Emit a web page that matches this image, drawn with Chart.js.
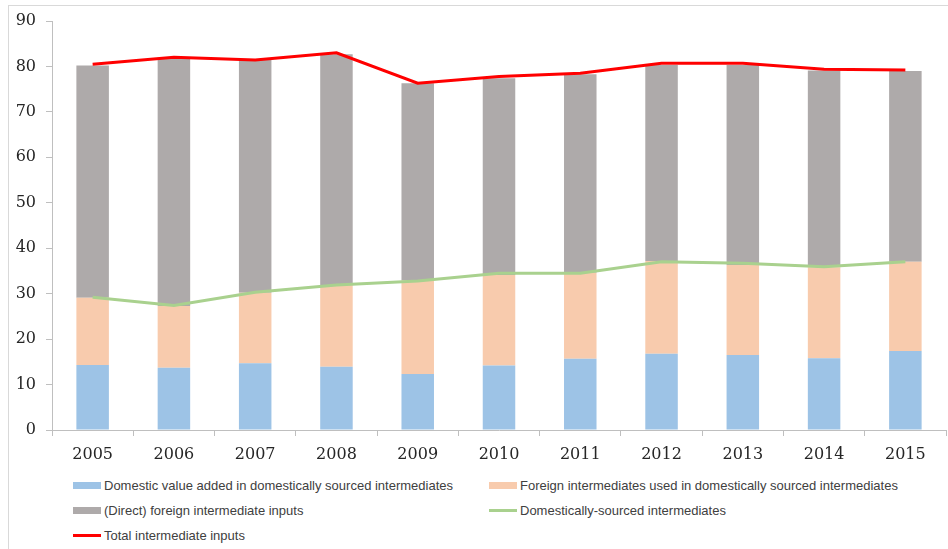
<!DOCTYPE html>
<html>
<head>
<meta charset="utf-8">
<script src="https://cdn.jsdelivr.net/npm/chart.js@4"></script>
<style>
  body { margin: 0; background: #fff; }
  #wrap { position: relative; width: 948px; height: 549px; overflow: hidden; }
  #frame { position: absolute; left: 8px; top: 5px; width: 960px; height: 560px;
           border-top: 1px solid #d9d9d9; border-left: 1px solid #d9d9d9; }
  #box { position: absolute; left: 0; top: 0; width: 948px; height: 470px; }
  #legend { position: absolute; left: 73px; top: 476px; width: 860px;
            display: grid; grid-template-columns: 416px 440px; row-gap: 7px;
            font-family: "Liberation Sans", Arial, sans-serif; font-size: 13px; color: #404040; }
  .item { display: flex; align-items: center; height: 18px; white-space: nowrap; }
  .sw { display: inline-block; width: 28px; margin-right: 3px; }
</style>
</head>
<body>
<div id="wrap">
  <div id="frame"></div>
  <div id="box"><canvas id="chart"></canvas></div>
  <div id="legend"></div>
</div>
<script>
const years = ["2005", "2006", "2007", "2008", "2009", "2010", "2011", "2012", "2013", "2014", "2015"];

// stacked bar segments
const domesticVA = [14.3, 13.7, 14.7, 13.9, 12.3, 14.2, 15.7, 16.8, 16.5, 15.8, 17.4];
const foreignInDomestic = [14.8, 13.6, 15.5, 18.0, 20.6, 19.9, 18.9, 20.4, 19.8, 20.0, 19.6];
const directForeign = [51.1, 54.6, 51.2, 50.8, 43.4, 43.3, 43.7, 43.1, 44.0, 43.3, 42.0];

// lines
const domesticSourced = [29.2, 27.4, 30.3, 31.9, 32.8, 34.5, 34.5, 37.0, 36.7, 35.9, 37.0];
const totalInputs = [80.5, 82.0, 81.4, 83.0, 76.3, 77.8, 78.5, 80.7, 80.7, 79.4, 79.2];

const yTicks = [0, 10, 20, 30, 40, 50, 60, 70, 80, 90];

const axisGray = "#bfbfbf";
const tickFont = { family: "DejaVu Serif", size: 16 };

const barCommon = { type: "bar", stack: "bars", order: 2, barPercentage: 0.4, categoryPercentage: 1, borderWidth: 0 };

const datasets = [
  { ...barCommon, label: "Domestic value added in domestically sourced intermediates", data: domesticVA, backgroundColor: "#9dc3e6" },
  { ...barCommon, label: "Foreign intermediates used in domestically sourced intermediates", data: foreignInDomestic, backgroundColor: "#f8cbad" },
  { ...barCommon, label: "(Direct) foreign intermediate inputs", data: directForeign, backgroundColor: "#aeaaaa" },
  { type: "line", stack: "green", order: 1, label: "Domestically-sourced intermediates", data: domesticSourced,
    borderColor: "#a9d18e", borderWidth: 3, pointRadius: 0, tension: 0, fill: false },
  { type: "line", stack: "red", order: 0, label: "Total intermediate inputs", data: totalInputs,
    borderColor: "#ff0000", borderWidth: 3, pointRadius: 0, tension: 0, fill: false }
];

const chart = new Chart(document.getElementById("chart"), {
  data: { labels: years, datasets },
  options: {
    responsive: true,
    maintainAspectRatio: false,
    animation: false,
    layout: { padding: { left: 0, top: 21, right: 2, bottom: 0 } },
    plugins: { legend: { display: false }, tooltip: { enabled: false } },
    scales: {
      x: {
        stacked: true,
        offset: true,
        grid: { offset: true, drawOnChartArea: false, color: axisGray, tickLength: 6 },
        border: { color: axisGray },
        ticks: { font: tickFont, color: "#262626", padding: 9, maxRotation: 0 },
        afterFit: s => { s.height = 40; }
      },
      y: {
        stacked: true,
        min: 0,
        max: 90,
        afterBuildTicks: s => { s.ticks = yTicks.map(v => ({ value: v })); },
        grid: { drawOnChartArea: false, color: axisGray, tickLength: 6 },
        border: { color: axisGray },
        ticks: { font: tickFont, color: "#262626", padding: 10 },
        afterFit: s => { s.width = 52; }
      }
    }
  }
});

// two-column legend below the chart
const legendOrder = [0, 1, 2, 3, 4];
const legend = document.getElementById("legend");
legendOrder.forEach(i => {
  const ds = chart.data.datasets[i];
  const item = document.createElement("div");
  item.className = "item";
  const sw = document.createElement("span");
  sw.className = "sw";
  if (ds.type === "bar") {
    sw.style.height = "7px";
    sw.style.background = ds.backgroundColor;
  } else {
    sw.style.height = "3px";
    sw.style.background = ds.borderColor;
  }
  item.appendChild(sw);
  item.appendChild(document.createTextNode(ds.label));
  legend.appendChild(item);
});
</script>
</body>
</html>
